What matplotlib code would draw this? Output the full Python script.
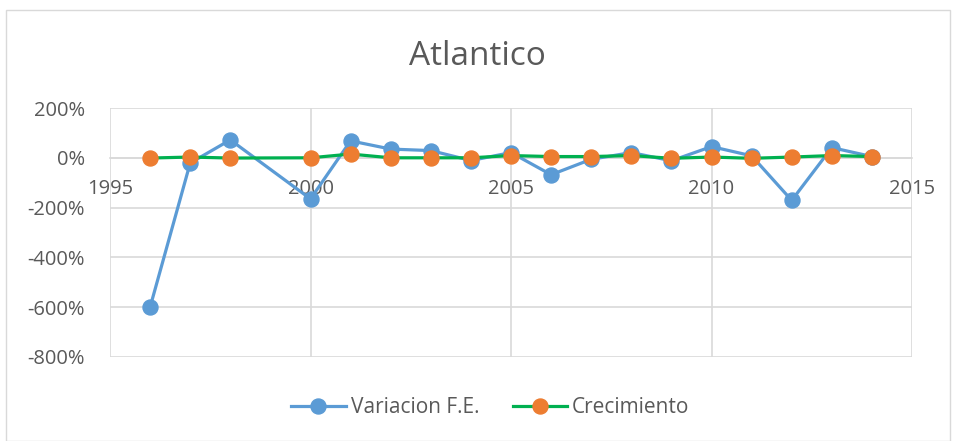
import matplotlib
matplotlib.use("Agg")
import matplotlib.pyplot as plt
from matplotlib.patches import Rectangle

years = [1996, 1997, 1998, 2000, 2001, 2002, 2003, 2004, 2005, 2006, 2007,
         2008, 2009, 2010, 2011, 2012, 2013, 2014]
variacion_fe = [-600, -21, 72, -165, 68, 35, 29, -11, 21, -68, -6,
                21, -12, 45, 8, -171, 41, 5]
crecimiento = [-1, 3, -1, 0, 15, 0, 0, 0, 9, 5, 5,
               9, -2, 3, -2, 3, 9, 5]
yticks = [-800, -600, -400, -200, 0, 200]
xticks = [1995, 2000, 2005, 2010, 2015]
title = "Atlantico"
series_names = ["Variacion F.E.", "Crecimiento"]

plt.rcParams['font.family'] = ['Open Sans', 'DejaVu Sans']
txt = "#595959"
grid = "#D9D9D9"

fig = plt.figure(figsize=(9.54, 4.41), dpi=100)
fig.patches.append(Rectangle((0.006, 0.0), 0.99, 0.977, transform=fig.transFigure,
                             fill=False, edgecolor="#D9D9D9", linewidth=1))
ax = fig.add_axes([0.1153, 0.1905, 0.8407, 0.5646])

ax.plot(years, variacion_fe, color="#5B9BD5", linewidth=2.3, marker="o",
        markersize=10.8, markerfacecolor="#5B9BD5", markeredgecolor="#5B9BD5",
        label=series_names[0], zorder=3)
ax.plot(years, crecimiento, color="#00B050", linewidth=2.3, marker="o",
        markersize=10.8, markerfacecolor="#ED7D31", markeredgecolor="#ED7D31",
        label=series_names[1], zorder=4)

ax.set_xlim(1995, 2015)
ax.set_ylim(-800, 200)
ax.set_xticks(xticks)
ax.set_yticks(yticks)
ax.set_yticklabels([f"{v}%" for v in yticks])
ax.grid(True, color=grid, linewidth=1.2, zorder=0)
ax.set_axisbelow(True)
for s in ["top", "right", "left"]:
    ax.spines[s].set_visible(False)
ax.spines["bottom"].set_position(("data", 0))
ax.spines["bottom"].set_color(grid)
ax.spines["bottom"].set_linewidth(1.2)
ax.tick_params(axis="both", length=0, labelsize=14.5, colors=txt)
ax.tick_params(axis="x", pad=15)
ax.tick_params(axis="y", pad=18)

fig.text(0.5, 0.872, title, ha="center", va="center", fontsize=24, color=txt)
leg = fig.legend(loc="center", bbox_to_anchor=(0.514, 0.075), ncol=2, frameon=False,
                 fontsize=15, handlelength=2.6, columnspacing=1.6, handletextpad=0.25,
                 markerscale=1.0)
for t in leg.get_texts():
    t.set_color(txt)

fig.savefig("out.png", dpi=100)
